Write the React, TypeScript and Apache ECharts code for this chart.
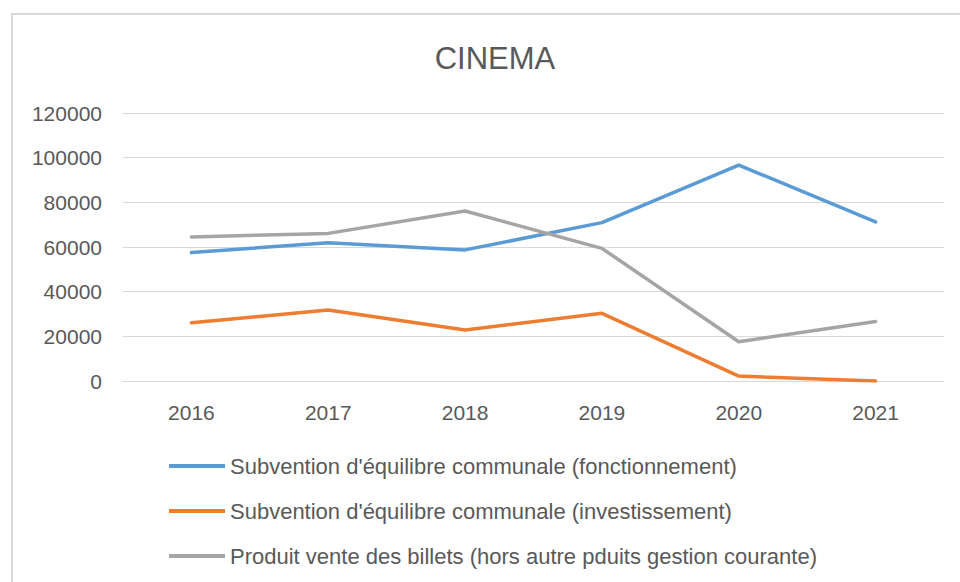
import React, { useEffect, useRef } from "react";
import * as echarts from "echarts";

const years = ["2016", "2017", "2018", "2019", "2020", "2021"];
const fonctionnement = [57500, 61900, 58700, 70900, 96700, 71200];
const investissement = [26100, 31800, 22800, 30300, 2200, 0];
const billets = [64500, 66100, 76100, 59400, 17600, 26600];

const seriesNames = [
  "Subvention d'équilibre communale (fonctionnement)",
  "Subvention d'équilibre communale (investissement)",
  "Produit vente des billets (hors autre pduits gestion courante)",
];
const colors = ["#5B9BD5", "#ED7D31", "#A5A5A5"];

const FONT = "'Liberation Sans', Arial, sans-serif";

export default function App() {
  const ref = useRef<HTMLDivElement>(null);
  useEffect(() => {
    if (!ref.current) return;
    const chart = echarts.init(ref.current, null, { renderer: "svg" });
    const mk = (name: string, data: number[], color: string) => ({
      name,
      type: "line",
      data,
      symbol: "none",
      lineStyle: { color, width: 3.5, cap: "round", join: "round" },
      itemStyle: { color },
    });
    chart.setOption({
      animation: false,
      backgroundColor: "#ffffff",
      title: {
        text: "CINEMA",
        left: 490,
        top: 38,
        textAlign: "center",
        textStyle: { fontFamily: FONT, fontSize: 31, fontWeight: "normal", color: "#595959" },
      },
      graphic: [
        {
          type: "rect",
          shape: { x: 12, y: 14, width: 960, height: 600 },
          style: { fill: "none", stroke: "#d9d9d9", lineWidth: 2 },
          silent: true,
        },
      ],
      grid: { left: 123, right: 16, top: 113, bottom: 201, containLabel: false, outerBoundsMode: "none" },
      legend: {
        orient: "vertical",
        left: 169,
        top: 454,
        padding: 0,
        icon: "rect",
        itemWidth: 56,
        itemHeight: 4,
        itemGap: 21,
        itemTextGap: 4,
        textStyle: { fontFamily: FONT, fontSize: 22, color: "#595959", lineHeight: 24 },
        data: seriesNames,
      },
      xAxis: {
        type: "category",
        data: years,
        boundaryGap: true,
        axisLine: { show: true, lineStyle: { color: "#d9d9d9", width: 1 } },
        axisTick: { show: false },
        axisLabel: { fontFamily: FONT, fontSize: 21, color: "#595959", margin: 21 },
      },
      yAxis: {
        type: "value",
        min: 0,
        max: 120000,
        interval: 20000,
        axisLine: { show: false },
        axisTick: { show: false },
        splitLine: { lineStyle: { color: "#d9d9d9", width: 1 } },
        axisLabel: {
          fontFamily: FONT,
          fontSize: 21,
          color: "#595959",
          margin: 21,
          formatter: (v: number) => String(v),
        },
      },
      series: [
        mk(seriesNames[0], fonctionnement, colors[0]),
        mk(seriesNames[1], investissement, colors[1]),
        mk(seriesNames[2], billets, colors[2]),
      ],
    });
    return () => chart.dispose();
  }, []);
  return (
    <div
      ref={ref}
      style={{ position: "absolute", left: 0, top: 0, width: 960, height: 582 }}
    />
  );
}
